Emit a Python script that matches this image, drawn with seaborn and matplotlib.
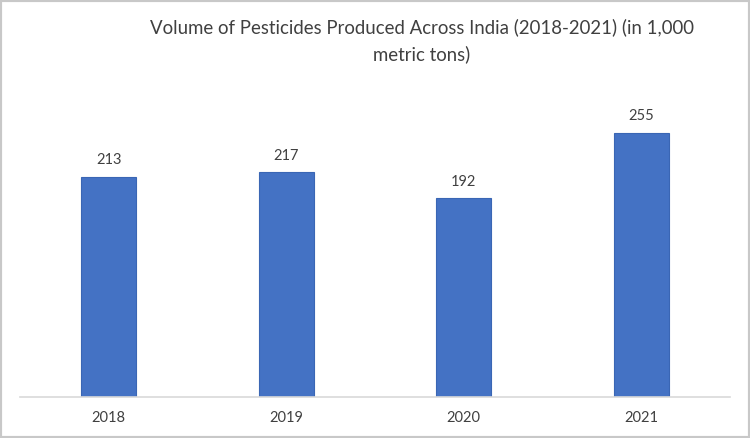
import matplotlib
matplotlib.use("Agg")
import matplotlib.pyplot as plt
import seaborn as sns
import pandas as pd
from matplotlib.patches import Rectangle

years = ["2018", "2019", "2020", "2021"]
volumes = [213, 217, 192, 255]
title = "Volume of Pesticides Produced Across India (2018-2021) (in 1,000\nmetric tons)"

sns.set_theme(style="white")
plt.rcParams['font.family'] = ['Lato', 'DejaVu Sans']

W, H = 750, 438
fig = plt.figure(figsize=(W/100, H/100), dpi=100)
ax = fig.add_axes([20/W, 1-397/H, 710/W, 297/H])

df = pd.DataFrame({"year": years, "volume": volumes})
sns.barplot(data=df, x="year", y="volume", ax=ax, color="#4472C4",
            width=0.31, edgecolor="#3A66B4", linewidth=0.8, saturation=1)

ax.set_xlim(-0.5, 3.5)
ax.set_ylim(0, 287)
for s in ["top", "right", "left"]:
    ax.spines[s].set_visible(False)
ax.spines["bottom"].set_color("#D9D9D9")
ax.spines["bottom"].set_linewidth(1.2)
ax.set_yticks([])
ax.set_xlabel("")
ax.set_ylabel("")
ax.tick_params(axis="x", length=0, pad=10, labelsize=10.5, labelcolor="#404040")

for i, v in enumerate(volumes):
    ax.annotate(str(v), (i, v), xytext=(0, 7), textcoords="offset points",
                ha="center", va="bottom", fontsize=10.5, color="#404040")

fig.text(422/W, 1-41/H, title, ha="center", va="center", fontsize=13.4,
         color="#404040", linespacing=1.6)

fig.patches.append(Rectangle((0, 0), 1, 1, transform=fig.transFigure,
                             fill=False, edgecolor="#C8C8C8", linewidth=3))

fig.savefig("out.png", dpi=100)
